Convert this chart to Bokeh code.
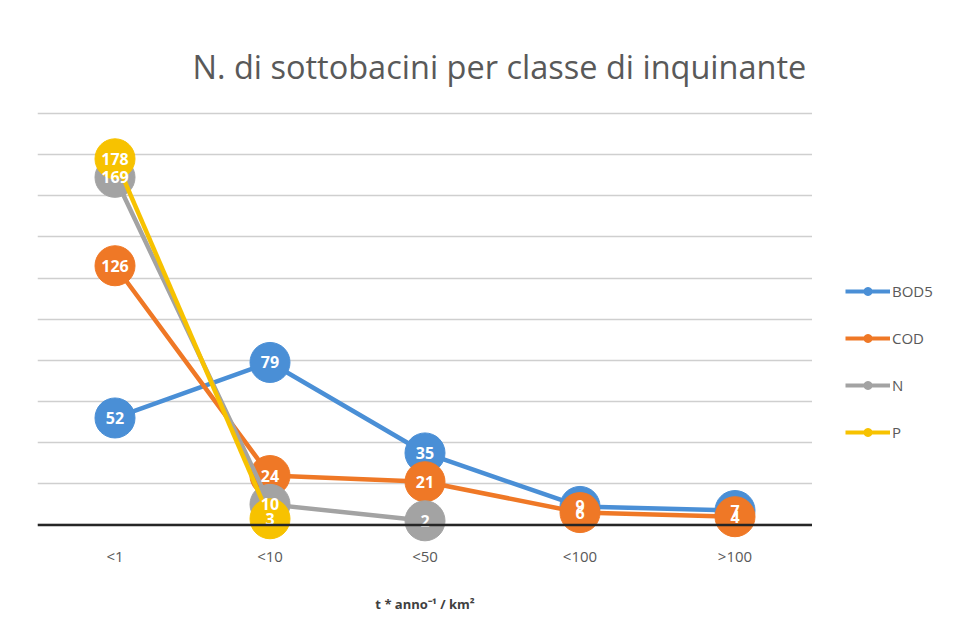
from bokeh.plotting import figure
from bokeh.layouts import row
from bokeh.models import (ColumnDataSource, Span, Legend, LegendItem, SingleIntervalTicker,
                          Range1d, Title)
from bokeh.core.properties import value
from bokeh.embed import file_html
from bokeh.resources import INLINE

categories = ["<1", "<10", "<50", "<100", ">100"]
series_names = ["BOD5", "COD", "N", "P"]
bod5 = [52, 79, 35, 9, 7]
cod = [126, 24, 21, 6, 4]
n_vals = [169, 10, 2, None, None]
p_vals = [178, 3, None, None, None]
colors = ["#4a8fd6", "#ef7826", "#a3a3a3", "#f7c200"]

FONT = "Open Sans"
H = 615

p = figure(width=812, height=H, x_range=categories, y_range=Range1d(-10, 201),
           output_backend="svg", toolbar_location=None,
           min_border_left=37, min_border_right=0, min_border_top=111, min_border_bottom=68)
p.outline_line_color = None
p.background_fill_color = "white"
p.border_fill_color = "white"

p.yaxis.visible = False
p.xgrid.grid_line_color = None
p.ygrid.ticker = SingleIntervalTicker(interval=20)
p.ygrid.grid_line_color = "#cfcfcf"
p.ygrid.grid_line_width = 1.3

p.xaxis.axis_line_color = None
p.xaxis.major_tick_line_color = None
p.xaxis.minor_tick_line_color = None
p.xaxis.major_tick_out = 0
p.xaxis.major_tick_in = 0
p.xaxis.major_label_standoff = 0
p.xaxis.major_label_text_font = FONT
p.xaxis.major_label_text_font_size = "15px"
p.xaxis.major_label_text_color = "#595959"
p.xaxis.axis_label = "t * anno\u207b\u00b9 / km\u00b2"
p.xaxis.axis_label_text_font = FONT
p.xaxis.axis_label_text_font_size = "13px"
p.xaxis.axis_label_text_font_style = "bold"
p.xaxis.axis_label_text_color = "#404040"
p.xaxis.axis_label_standoff = 26

title = Title(text="N. di sottobacini per classe di inquinante", align="left",
              text_font=FONT, text_font_size="32.5px", text_font_style="normal",
              text_color="#595959", standoff=45, offset=155)
p.add_layout(title, "above")

baseline = Span(location=0, dimension="width", line_color="#262626", line_width=2.5)
p.add_layout(baseline)

all_series = [bod5, cod, n_vals, p_vals]
label_sources = []
for name, vals, col in zip(series_names, all_series, colors):
    ys = [float("nan") if v is None else v for v in vals]
    src = ColumnDataSource(dict(x=categories, y=ys))
    p.line("x", "y", source=src, line_color=col, line_width=4.5)
    xs_pts = [c for c, v in zip(categories, vals) if v is not None]
    ys_pts = [v for v in vals if v is not None]
    psrc = ColumnDataSource(dict(x=xs_pts, y=ys_pts, t=[str(v) for v in ys_pts]))
    p.scatter("x", "y", source=psrc, size=40, fill_color=col, line_color=col, line_width=1)
    label_sources.append(psrc)

for psrc in label_sources:
    p.text("x", "y", text="t", source=psrc, text_color="white", text_align="center",
           text_baseline="middle", text_font=value(FONT), text_font_size="16px",
           text_font_style="bold")

# legend panel as a separate figure
lf = figure(width=133, height=H, x_range=Range1d(0, 1), y_range=Range1d(0, 1),
            output_backend="svg", toolbar_location=None,
            x_axis_location=None, y_axis_location=None,
            min_border_left=0, min_border_right=0, min_border_top=0, min_border_bottom=0)
lf.outline_line_color = None
lf.xgrid.visible = False
lf.ygrid.visible = False
lf.border_fill_color = "white"

items = []
nan = float("nan")
for name, col in zip(series_names, colors):
    esrc = ColumnDataSource(dict(x=[nan], y=[nan]))
    ln = lf.line("x", "y", source=esrc, line_color=col, line_width=4)
    sc = lf.scatter("x", "y", source=esrc, size=40, fill_color=col, line_color=col)
    items.append(LegendItem(label=name, renderers=[ln, sc]))

legend = Legend(items=items, location=(33, 103))
legend.glyph_width = 45
legend.glyph_height = 20
legend.label_height = 20
legend.spacing = 27
legend.padding = 0
legend.margin = 0
legend.label_standoff = 2
legend.label_text_font = FONT
legend.label_text_font_size = "15px"
legend.label_text_color = "#595959"
legend.border_line_color = None
legend.background_fill_alpha = 0
lf.add_layout(legend, "center")

layout = row(p, lf)
open("out.html", "w").write(file_html(layout, INLINE))
